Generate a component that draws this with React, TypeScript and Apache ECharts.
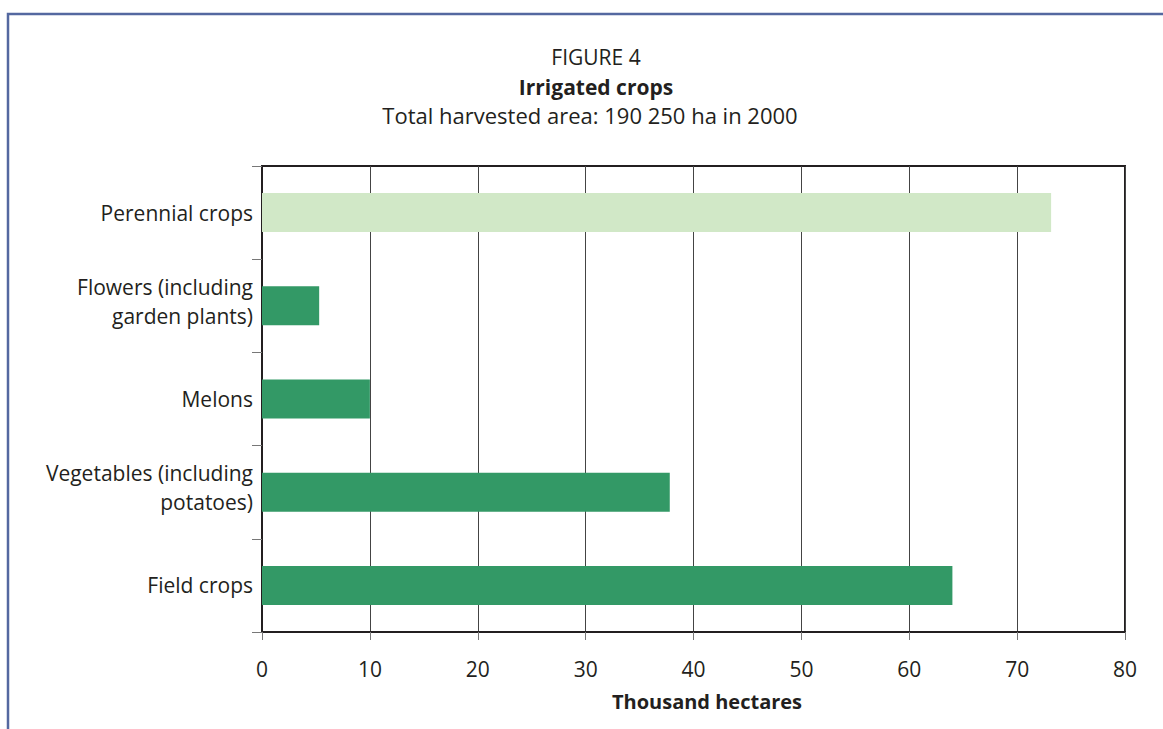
import React, { useEffect, useRef } from "react";
import * as echarts from "echarts";

// Irrigated crop groups, listed bottom to top as drawn on the category axis
const categories = [
  "Field crops",
  "Vegetables (including\npotatoes)",
  "Melons",
  "Flowers (including\ngarden plants)",
  "Perennial crops",
];
// Harvested area, thousand hectares
const areaThousandHa = [64.0, 37.8, 10.0, 5.3, 73.15];
const barColors = ["#339966", "#339966", "#339966", "#339966", "#d1e8c7"];
const xTicks = { min: 0, max: 80, interval: 10 };

const FONT = "'Open Sans', 'Noto Sans', sans-serif";
const TEXT = "#231f20";

// Two-line labels sit a touch high: a short blank spacer line below
// nudges the centred block upwards.
function categoryLabel(name: string): string {
  const lines = name.split("\n");
  if (lines.length === 1) return `{t|${name}}`;
  return lines.map((l) => `{t|${l}}`).join("\n") + "\n{bot| }";
}

export default function App() {
  const ref = useRef<HTMLDivElement>(null);

  useEffect(() => {
    if (!ref.current) return;
    const chart = echarts.init(ref.current, undefined, { renderer: "svg" });
    chart.setOption({
      animation: false,
      backgroundColor: "#ffffff",
      textStyle: { fontFamily: FONT, color: TEXT },
      grid: {
        left: 262,
        right: 38,
        top: 166,
        bottom: 97,
        show: true,
        borderColor: "#231f20",
        borderWidth: 2,
        containLabel: false,
      },
      xAxis: {
        type: "value",
        min: xTicks.min,
        max: xTicks.max,
        interval: xTicks.interval,
        axisLine: { show: true, lineStyle: { color: "#231f20", width: 2 } },
        axisTick: { show: true, length: 8, lineStyle: { color: "#777", width: 1 } },
        splitLine: { show: true, lineStyle: { color: "#444", width: 1 } },
        axisLabel: { fontSize: 21, color: TEXT, fontFamily: FONT, margin: 26 },
        name: "Thousand hectares",
        nameLocation: "middle",
        nameGap: 59,
        nameTextStyle: {
          fontSize: 20,
          fontWeight: "bold",
          color: TEXT,
          fontFamily: FONT,
          padding: [0, 0, 0, 27],
        },
      },
      yAxis: {
        type: "category",
        data: categories,
        axisLine: { show: true, lineStyle: { color: "#231f20", width: 2 } },
        axisTick: { show: true, length: 10, alignWithLabel: false, lineStyle: { color: "#777", width: 1 } },
        axisLabel: {
          fontSize: 21,
          color: TEXT,
          fontFamily: FONT,
          lineHeight: 29,
          margin: 9,
          align: "right",
          formatter: categoryLabel,
          rich: {
            t: { fontSize: 21, color: TEXT, fontFamily: FONT, lineHeight: 29 },
            bot: { fontSize: 4, lineHeight: 9 },
          },
        },
        splitLine: { show: false },
      },
      series: [
        {
          type: "bar",
          data: areaThousandHa.map((v, i) => ({ value: v, itemStyle: { color: barColors[i] } })),
          barWidth: 39,
        },
      ],
      graphic: [
        {
          type: "polyline",
          shape: { points: [[8, 729], [8, 14], [1163, 14]] },
          style: { stroke: "#5468a0", lineWidth: 2.5, fill: "none" },
          silent: true,
        },
        {
          type: "text",
          x: 596,
          y: 57,
          style: { text: "FIGURE 4", fontSize: 21, fontFamily: FONT, fill: TEXT, align: "center", verticalAlign: "middle" },
        },
        {
          type: "text",
          x: 596,
          y: 87,
          style: { text: "Irrigated crops", fontSize: 21, fontWeight: "bold", fontFamily: FONT, fill: TEXT, align: "center", verticalAlign: "middle" },
        },
        {
          type: "text",
          x: 590,
          y: 115,
          style: { text: "Total harvested area: 190 250 ha in 2000", fontSize: 22, fontFamily: FONT, fill: TEXT, align: "center", verticalAlign: "middle" },
        },
      ],
    });
    return () => chart.dispose();
  }, []);

  return (
    <div
      ref={ref}
      style={{ position: "fixed", left: 0, top: 0, width: 1163, height: 729 }}
    />
  );
}
